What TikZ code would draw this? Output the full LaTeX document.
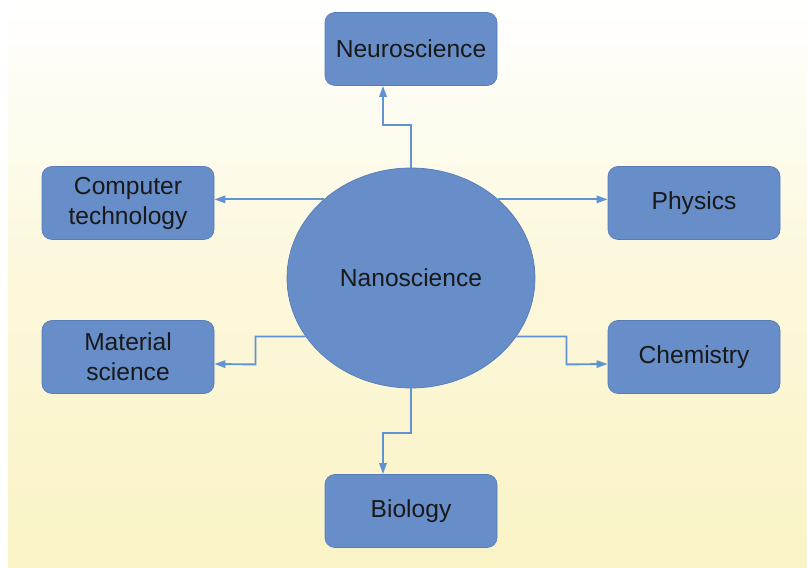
\documentclass[tikz,border=0pt]{standalone}
\usepackage{fontspec}
\setmainfont{Liberation Sans}
\usepackage{tikz}
\usetikzlibrary{shapes,arrows.meta}
\definecolor{boxblue}{RGB}{103,142,200}
\definecolor{boxedge}{RGB}{88,124,186}
\definecolor{lineblue}{RGB}{96,146,212}
\definecolor{paleyellow}{RGB}{250,243,198}
\tikzstyle{topic} = [draw=boxedge,fill=boxblue,rectangle,rounded corners=0.3cm,align=center,
                     minimum width=5.16cm,minimum height=2.19cm,inner sep=0.5ex,line width=0.6pt,
                     font=\fontsize{21}{25.6}\selectfont,text=black!90]
\tikzstyle{arrow} = [draw=lineblue,line width=1.6pt,-{Triangle[length=0.33cm,width=0.22cm]}]

\begin{document}
\begin{tikzpicture}
                        \useasboundingbox (0,0) rectangle (24.21,17.04);
                        \shade[top color=white,bottom color=paleyellow,middle color=paleyellow!65]
                            (0.24,0) rectangle (24.21,17.04);
                        \node[ellipse,draw=boxedge,fill=boxblue,minimum width=7.44cm,minimum height=6.6cm,
                            inner sep=0pt,line width=0.6pt,font=\fontsize{21}{25.6}\selectfont,text=black!90]
                            (nano) at (12.33,8.70) {Nanoscience};
                        \node[topic] (neuro) at (12.33,15.57) {Neuroscience};
                        \node[topic] (comp) at (3.84,10.95) {Computer\\technology};
                        \node[topic] (phys) at (20.82,10.95) {Physics};
                        \node[topic] (mat) at (3.84,6.33) {Material\\science};
                        \node[topic] (chem) at (20.82,6.33) {Chemistry};
                        \node[topic] (bio) at (12.33,1.71) {Biology};
                        % connectors
                        \draw[arrow] (nano.north) -- ++(0,1.29) -| ([xshift=-0.84cm]neuro.south);
                        \draw[arrow] (nano.138) -- (nano.138 -| comp.east);
                        \draw[arrow] (nano.42) -- (nano.42 -| phys.west);
                        \draw[arrow] (nano.209) -| ++(-1.5,-0.84) -- ([yshift=-0.21cm]mat.east);
                        \draw[arrow] (nano.-29) -| ++(1.5,-0.84) -- ([yshift=-0.21cm]chem.west);
                        \draw[arrow] (nano.south) -- ++(0,-1.35) -| ([xshift=-0.84cm]bio.north);
                    \end{tikzpicture}
\end{document}
